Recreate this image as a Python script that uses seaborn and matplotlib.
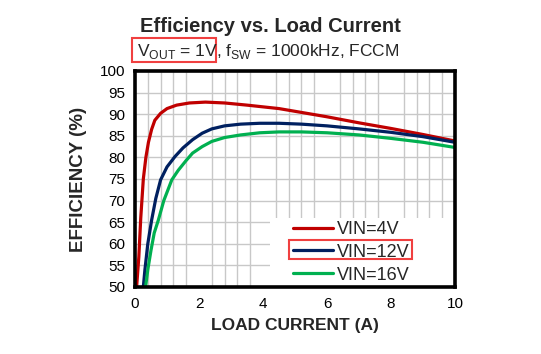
import numpy as np
import pandas as pd
import matplotlib
matplotlib.use("Agg")
import matplotlib.pyplot as plt
import seaborn as sns
from matplotlib.patches import Rectangle
from matplotlib.ticker import MultipleLocator

# ---- data ----
x_4v = [0.05, 0.12, 0.18, 0.26, 0.34, 0.42, 0.52, 0.62, 0.8, 1.0, 1.3, 1.7, 2.2, 2.8, 3.5, 4.5, 6, 7, 8, 9, 10]
eff_4v = [50, 57, 66, 75, 80, 83.5, 86.5, 88.6, 90.2, 91.3, 92.1, 92.6, 92.8, 92.6, 92.1, 91.3, 89.4, 88.0, 86.7, 85.3, 83.8]

x_12v = [0.26, 0.31, 0.4, 0.52, 0.65, 0.8, 1.0, 1.25, 1.5, 1.8, 2.1, 2.4, 2.8, 3.3, 3.9, 4.5, 5.2, 6, 7, 8, 9, 10]
eff_12v = [50, 54, 60, 65.5, 70.5, 74.8, 77.8, 80.2, 82.2, 84.1, 85.6, 86.6, 87.3, 87.7, 87.9, 87.9, 87.7, 87.3, 86.6, 85.8, 84.8, 83.5]

x_16v = [0.33, 0.4, 0.5, 0.6, 0.73, 0.9, 1.15, 1.35, 1.6, 1.8, 2.1, 2.4, 2.8, 3.3, 3.9, 4.5, 5.2, 6, 7, 8, 9, 10]
eff_16v = [50, 54, 58.5, 62.5, 65.5, 70, 74.8, 77, 79.3, 81, 82.5, 83.7, 84.6, 85.2, 85.7, 85.9, 85.9, 85.7, 85.2, 84.4, 83.5, 82.3]

series_names = ["VIN=4V", "VIN=12V", "VIN=16V"]
colors = ["#C00000", "#002060", "#00B050"]
x_ticks = [0, 2, 4, 6, 8, 10]
y_ticks = [50, 55, 60, 65, 70, 75, 80, 85, 90, 95, 100]

frames = []
for name, xs, ys in zip(series_names, [x_4v, x_12v, x_16v], [eff_4v, eff_12v, eff_16v]):
    frames.append(pd.DataFrame({"current": xs, "eff": ys, "series": name}))
df = pd.concat(frames, ignore_index=True)

sns.set_theme(style="white")
plt.rcParams["font.family"] = ["Liberation Sans", "DejaVu Sans"]
plt.rcParams["mathtext.fontset"] = "custom"
plt.rcParams["mathtext.rm"] = "Liberation Sans"

W, H = 541, 354
fig = plt.figure(figsize=(W / 100, H / 100), dpi=100)
L, R, T, B = 135, 455, 71, 287
ax = fig.add_axes([L / W, 1 - B / H, (R - L) / W, (B - T) / H])

sns.lineplot(data=df, x="current", y="eff", hue="series", hue_order=series_names,
             palette=colors, linewidth=2.3, ax=ax, sort=False, estimator=None)

ax.set_xlim(0, 10)
ax.set_ylim(50, 100)
ax.set_xticks(x_ticks)
ax.set_yticks(y_ticks)
ax.xaxis.set_minor_locator(MultipleLocator(0.4))
ax.grid(True, which="major", axis="y", color="#c8c8c8", linewidth=1.0)
ax.grid(True, which="minor", axis="x", color="#c8c8c8", linewidth=1.0)
ax.grid(False, which="major", axis="x")
ax.set_axisbelow(True)
ax.tick_params(axis="both", which="both", length=0, labelsize=11, pad=7, colors="black")
for s in ax.spines.values():
    s.set_visible(True)
    s.set_color("black")
    s.set_linewidth(2.6)
    s.set_zorder(5)

ax.set_xlabel("LOAD CURRENT (A)", fontsize=12.5, fontweight="bold", labelpad=5)
ax.set_ylabel("EFFICIENCY (%)", fontsize=13.5, fontweight="bold", labelpad=9)

# white legend background panel
ax.add_patch(Rectangle(((270 - L) / (R - L), 0), (R - 270) / (R - L), (B - 218) / (B - T),
                       transform=ax.transAxes, facecolor="white", edgecolor="none", zorder=1.5))

leg = ax.legend(loc="upper left", frameon=False, fontsize=13, handlelength=2.2,
                handletextpad=0.25, borderpad=0, borderaxespad=0, labelspacing=0.32,
                bbox_to_anchor=((293 - L) / (R - L), (B - 221) / (B - T)))
for lh in leg.get_lines():
    lh.set_linewidth(2.3)

# title and subtitle
fig.text(270 / W, 1 - 26 / H, "Efficiency vs. Load Current", ha="center", va="center",
         fontsize=14.5, fontweight="bold")
fig.text(137 / W, 1 - 56 / H, r"V$_\mathregular{OUT}$ = 1V", ha="left", va="baseline",
         fontsize=12.5)
fig.text(216 / W, 1 - 56 / H, r", f$_\mathregular{SW}$ = 1000kHz, FCCM", ha="left",
         va="baseline", fontsize=12.5)

# red highlight boxes
fig.patches.append(Rectangle((132 / W, 1 - 62 / H), 84 / W, 24 / H, transform=fig.transFigure,
                             fill=False, edgecolor="#F04040", linewidth=1.5))
fig.patches.append(Rectangle((289 / W, 1 - 259 / H), 123 / W, 19 / H, transform=fig.transFigure,
                             fill=False, edgecolor="#F04040", linewidth=1.5, zorder=10))

fig.savefig("out.png", dpi=100)
